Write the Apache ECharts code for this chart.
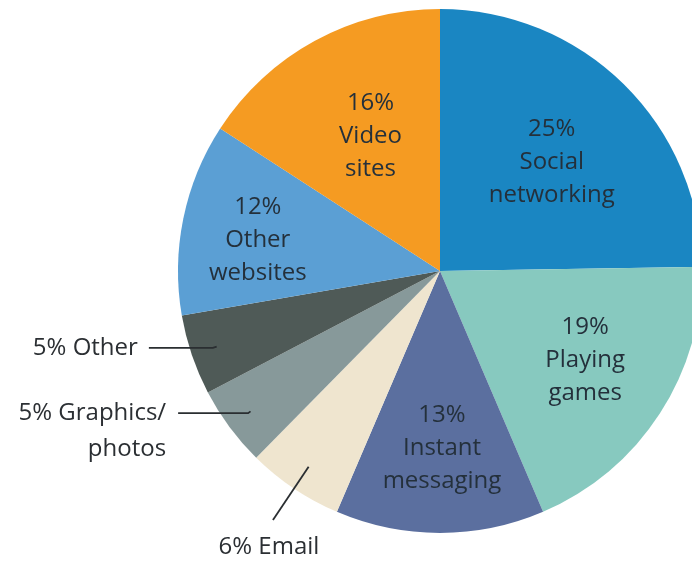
<!DOCTYPE html>
<html>
<head>
<meta charset="utf-8">
<script src="https://cdn.jsdelivr.net/npm/echarts@6/dist/echarts.min.js"></script>
<style>
  html, body { margin: 0; padding: 0; background: #ffffff; }
  #chart { width: 692px; height: 565px; }
</style>
</head>
<body>
<div id="chart"></div>
<script>
// Time spent online by activity (percent share), clockwise from the top
const categories = ['Social\nnetworking', 'Playing\ngames', 'Instant\nmessaging', 'Email',
                    'Graphics/\nphotos', 'Other', 'Other\nwebsites', 'Video\nsites'];
const shares = [25, 19, 13, 6, 5, 5, 12, 16];
const sliceColors = ['#1a86c2', '#87c9bf', '#5b6f9f', '#efe5cf',
                     '#87999a', '#4f5a57', '#5b9fd4', '#f59b22'];
// small slices get a callout outside the pie instead of an inner label
const calloutSlices = [false, false, false, true, true, true, false, false];

const FONT = '"Open Sans", Lato, sans-serif';
const TEXT_COLOR = '#24303b';
const CENTER = [440, 271];
const R = 262;

// small nudges for the inner labels so each sits well inside its slice
const innerNudge = {
  'Social\nnetworking': [-8, 13],
  'Playing\ngames':     [2, -4],
  'Instant\nmessaging': [2, 6],
  'Other\nwebsites':    [-15, 3],
  'Video\nsites':       [12, 15]
};

// per-callout leader line and text settings
const calloutStyle = {
  'Email':             { length: 64, length2: 0,  distance: 4,  lead: '' },
  'Graphics/\nphotos': { length: 3,  length2: 70, distance: 12, lead: '\n' },
  'Other':             { length: 4,  length2: 64, distance: 11, lead: '' }
};

const sliceData = categories.map((name, i) => ({
  name, value: shares[i], itemStyle: { color: sliceColors[i] }
}));

const innerLabelData = categories.map((name, i) => ({
  name, value: shares[i],
  label: { show: !calloutSlices[i] }
}));

const calloutData = categories.map((name, i) => {
  const cs = calloutStyle[name];
  return {
    name, value: shares[i],
    label: cs ? {
      show: true,
      formatter: cs.lead + shares[i] + '% ' + name,
      distanceToLabelLine: cs.distance,
      padding: name === 'Email' ? [9, 0, 0, 0] : 0
    } : { show: false },
    labelLine: cs ? { show: true, length: cs.length, length2: cs.length2 } : { show: false }
  };
});

const chart = echarts.init(document.getElementById('chart'), null, { renderer: 'canvas' });
chart.setOption({
  backgroundColor: '#ffffff',
  animation: false,
  series: [
    {
      // the slices themselves
      type: 'pie',
      z: 2,
      center: CENTER,
      radius: [0, R],
      startAngle: 90,
      clockwise: true,
      silent: true,
      avoidLabelOverlap: false,
      label: { show: false },
      labelLine: { show: false },
      itemStyle: { borderWidth: 0 },
      data: sliceData
    },
    {
      // inner labels, placed part way out along each slice
      type: 'pie',
      z: 3,
      center: CENTER,
      radius: [0, R * 1.28],
      startAngle: 90,
      clockwise: true,
      silent: true,
      avoidLabelOverlap: false,
      itemStyle: { color: 'rgba(0,0,0,0)', borderWidth: 0 },
      label: {
        position: 'inside',
        formatter: p => p.value + '%\n' + p.name,
        color: TEXT_COLOR,
        fontFamily: FONT,
        fontSize: 24,
        lineHeight: 33,
        align: 'center',
        textBorderWidth: 0
      },
      labelLine: { show: false },
      labelLayout: function (p) {
        const n = innerNudge[categories[p.dataIndex]];
        if (n) return { dx: n[0], dy: n[1] };
      },
      data: innerLabelData
    },
    {
      // callouts for the small slices, leader lines start inside the slice
      type: 'pie',
      z: 4,
      center: CENTER,
      radius: [0, R * 0.9],
      startAngle: 90,
      clockwise: true,
      silent: true,
      avoidLabelOverlap: false,
      itemStyle: { color: 'rgba(0,0,0,0)', borderWidth: 0 },
      label: {
        position: 'outside',
        alignTo: 'none',
        color: '#2b2f33',
        fontFamily: FONT,
        fontSize: 24,
        lineHeight: 36
      },
      labelLine: {
        lineStyle: { color: '#2a2e31', width: 1.8 }
      },
      labelLayout: function (p) {
        if (categories[p.dataIndex] === 'Email') {
          return { align: 'center', verticalAlign: 'top' };
        }
      },
      data: calloutData
    }
  ]
});
</script>
</body>
</html>
